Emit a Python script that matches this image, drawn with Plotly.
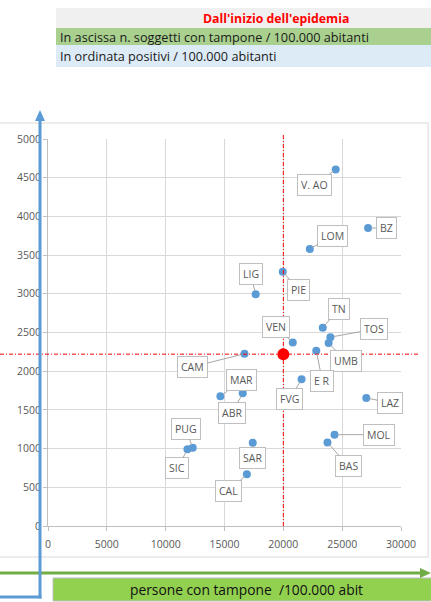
import plotly.graph_objects as go

# ---- data ----
regions = ["V. AO", "BZ", "LOM", "LIG", "PIE", "TN", "TOS", "VEN", "UMB", "E R", "CAM",
           "FVG", "MAR", "ABR", "LAZ", "MOL", "BAS", "SAR", "CAL", "PUG", "SIC"]
tamponi = [24450, 27200, 22250, 17650, 19950, 23350, 24000, 20800, 23850, 22800, 16700,
           21550, 14650, 16550, 27050, 24350, 23750, 17400, 16900, 12300, 11850]
positivi = [4605, 3850, 3580, 2995, 3285, 2560, 2440, 2370, 2365, 2265, 2225,
            1895, 1675, 1715, 1655, 1180, 1080, 1075, 670, 1010, 990]
ref_x = [20000]
ref_y = [2220]
x_ticks = [0, 5000, 10000, 15000, 20000, 25000, 30000]
y_ticks = [0, 500, 1000, 1500, 2000, 2500, 3000, 3500, 4000, 4500, 5000]

# label offsets in pixels (text box relative to point)
label_offsets = {
    "V. AO": (-21, 15), "BZ": (18, 0), "LOM": (23, -13), "LIG": (-5, -20),
    "PIE": (16, 18), "TN": (16, -19), "TOS": (44, -8), "VEN": (-17, -16),
    "UMB": (17, 18), "E R": (6, 30), "CAM": (-52, 13), "FVG": (-12, 20),
    "MAR": (21, -16), "ABR": (-11, 20), "LAZ": (24, 5), "MOL": (44, 0),
    "BAS": (21, 24), "SAR": (0, 15), "CAL": (-18, 17), "PUG": (-7, -19),
    "SIC": (-10, 19),
}

W, H = 431, 602
L, R, T, B = 48, 30, 139, 76
PW, PH = W - L - R, H - T - B


def px(x):
    return (x - L) / PW


def py(y):
    return (H - B - y) / PH


FONT = "Open Sans"
fig = go.Figure()

fig.add_trace(go.Scatter(x=tamponi, y=positivi, mode="markers",
                         marker=dict(size=8, color="#5B9BD5"), hoverinfo="text",
                         text=regions, showlegend=False))
fig.add_trace(go.Scatter(x=ref_x, y=ref_y, mode="markers",
                         marker=dict(size=12, color="#FF0000"), showlegend=False))

RED_DASH = dict(color="#FF0000", width=1, dash="4px,2px,1px,2px")

shapes = []
# header bands
shapes.append(dict(type="rect", xref="paper", yref="paper", x0=px(56), x1=px(431), y0=py(8), y1=py(28),
                   fillcolor="#F0F0F0", line=dict(width=0), layer="below"))
shapes.append(dict(type="rect", xref="paper", yref="paper", x0=px(56), x1=px(431), y0=py(28), y1=py(45),
                   fillcolor="#A9D08E", line=dict(width=0), layer="below"))
shapes.append(dict(type="rect", xref="paper", yref="paper", x0=px(56), x1=px(431), y0=py(45), y1=py(67),
                   fillcolor="#DDEBF7", line=dict(width=0), layer="below"))
# chart frame
shapes.append(dict(type="rect", xref="paper", yref="paper", x0=px(-1), x1=px(428), y0=py(123), y1=py(557),
                   fillcolor="rgba(0,0,0,0)", line=dict(width=1, color="#D9D9D9"), layer="below"))
# reference dashed lines
shapes.append(dict(type="line", xref="x", yref="paper", x0=ref_x[0], x1=ref_x[0], y0=0, y1=py(135),
                   line=RED_DASH))
shapes.append(dict(type="line", xref="paper", yref="y", x0=px(0), x1=px(418), y0=ref_y[0], y1=ref_y[0],
                   line=RED_DASH))
# green box (x axis title)
shapes.append(dict(type="rect", xref="paper", yref="paper", x0=px(53), x1=px(432), y0=py(578), y1=py(601),
                   fillcolor="#92D050", line=dict(width=1, color="#C0C0C0")))
# green arrow
shapes.append(dict(type="line", xref="paper", yref="paper", x0=px(-2), x1=px(422), y0=py(573), y1=py(573),
                   line=dict(color="#70AD47", width=3)))
shapes.append(dict(type="path", xref="paper", yref="paper",
                   path=f"M {px(420)} {py(568)} L {px(431)} {py(573)} L {px(420)} {py(578)} Z",
                   fillcolor="#70AD47", line=dict(width=0)))
# blue arrow
shapes.append(dict(type="line", xref="paper", yref="paper", x0=px(40), x1=px(40), y0=py(598.5), y1=py(118),
                   line=dict(color="#5B9BD5", width=3)))
shapes.append(dict(type="line", xref="paper", yref="paper", x0=px(-2), x1=px(41.5), y0=py(597), y1=py(597),
                   line=dict(color="#5B9BD5", width=3)))
shapes.append(dict(type="path", xref="paper", yref="paper",
                   path=f"M {px(35)} {py(121)} L {px(40)} {py(110)} L {px(45)} {py(121)} Z",
                   fillcolor="#5B9BD5", line=dict(width=0)))

annotations = []
annotations.append(dict(xref="paper", yref="paper", x=px(276), y=py(18), text="<b>Dall'inizio dell'epidemia</b>",
                        showarrow=False, font=dict(family=FONT, size=12.3, color="#FF0000"),
                        xanchor="center", yanchor="middle"))
annotations.append(dict(xref="paper", yref="paper", x=px(58), y=py(36.5),
                        text="In ascissa n. soggetti con tampone / 100.000 abitanti",
                        showarrow=False, font=dict(family=FONT, size=12.7, color="#1a1a1a"),
                        xanchor="left", yanchor="middle"))
annotations.append(dict(xref="paper", yref="paper", x=px(58), y=py(56),
                        text="In ordinata positivi / 100.000 abitanti",
                        showarrow=False, font=dict(family=FONT, size=12.7, color="#1a1a1a"),
                        xanchor="left", yanchor="middle"))
annotations.append(dict(xref="paper", yref="paper", x=px(246), y=py(589.5),
                        text="persone con tampone  /100.000 abit",
                        showarrow=False, font=dict(family=FONT, size=13.8, color="#111111"),
                        xanchor="center", yanchor="middle"))

for name, xv, yv in zip(regions, tamponi, positivi):
    ax, ay = label_offsets[name]
    annotations.append(dict(x=xv, y=yv, xref="x", yref="y", text=name, showarrow=True,
                            arrowhead=0, arrowwidth=1, arrowcolor="#A6A6A6", ax=ax, ay=ay,
                            standoff=3, font=dict(family=FONT, size=10.5, color="#595959"),
                            bgcolor="white", bordercolor="#BFBFBF", borderwidth=1, borderpad=3))

fig.update_layout(
    width=W, height=H, margin=dict(l=L, r=R, t=T, b=B),
    paper_bgcolor="white", plot_bgcolor="white",
    shapes=shapes, annotations=annotations,
    xaxis=dict(range=[0, 30000], tickvals=x_ticks, tickformat="d", showgrid=True, gridcolor="#D9D9D9",
               gridwidth=1, zeroline=False, showline=True, linecolor="#BFBFBF", ticks="outside",
               ticklen=4, tickcolor="#BFBFBF", tickfont=dict(family=FONT, size=10.5, color="#595959"),
               ticklabelstandoff=4),
    yaxis=dict(range=[0, 5000], tickvals=y_ticks, tickformat="d", showgrid=True, gridcolor="#D9D9D9",
               gridwidth=1, zeroline=False, showline=True, linecolor="#BFBFBF", ticks="outside",
               ticklen=4, tickcolor="#BFBFBF", tickfont=dict(family=FONT, size=10.5, color="#595959")),
    font=dict(family=FONT),
)

fig.write_html("out.html", config={"displayModeBar": False},
               post_script="document.body.style.margin='0';")
